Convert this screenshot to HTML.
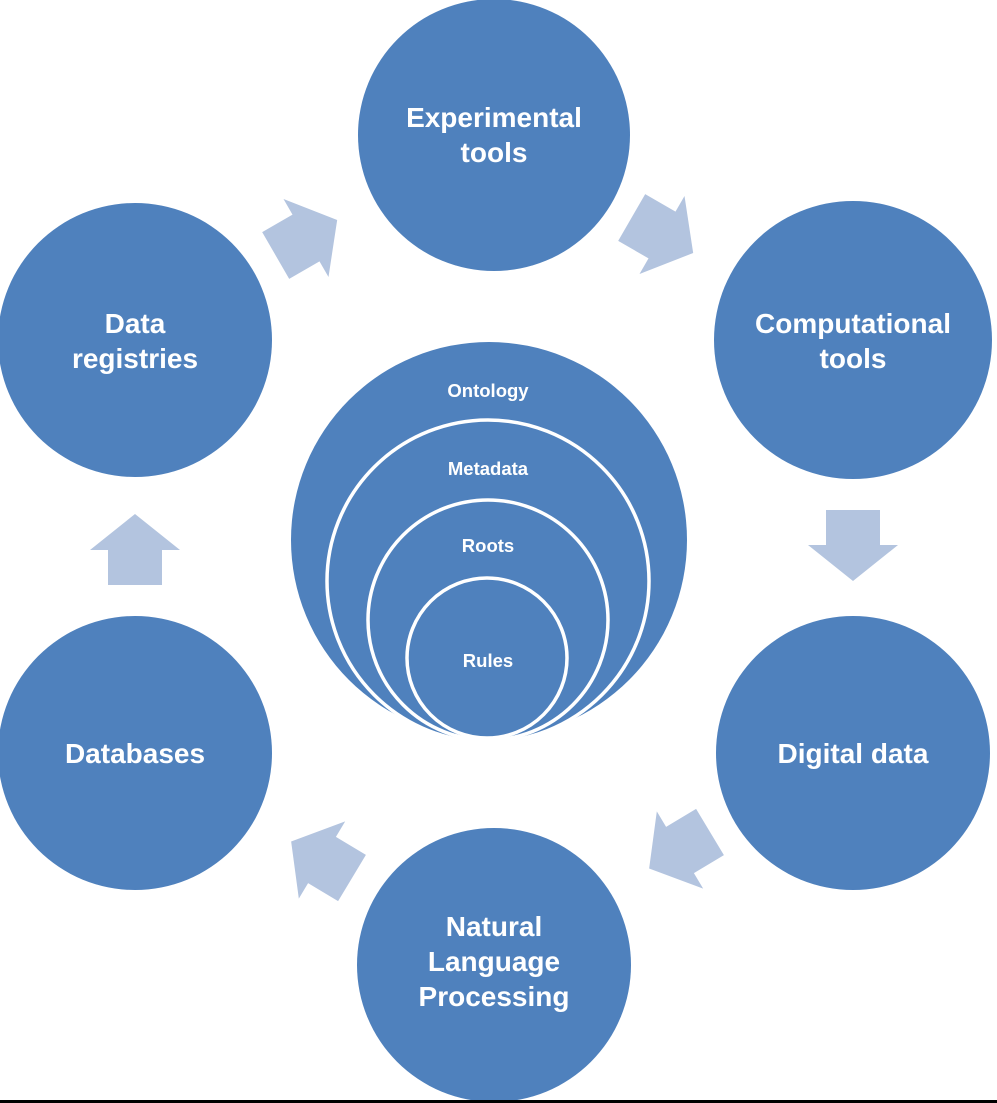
<!DOCTYPE html>
<html><head><meta charset="utf-8"><style>
html,body{margin:0;padding:0;background:#fff;}
svg{display:block;}
text{font-family:"Liberation Sans",Arial,sans-serif;font-weight:bold;fill:#fff;text-anchor:middle;}
</style></head><body>
<svg width="997" height="1103" viewBox="0 0 997 1103">
<defs>
<polygon id="ar" points="-35,-27 0,-27 0,-45 36,0 0,45 0,27 -35,27" fill="#b3c4df"/>
</defs>
<g fill="#4f81bd">
<circle cx="494" cy="135" r="136"/>
<circle cx="853" cy="340" r="139"/>
<circle cx="853" cy="753" r="137"/>
<circle cx="494" cy="965" r="137"/>
<circle cx="135" cy="753" r="137"/>
<circle cx="135" cy="340" r="137"/>
</g>
<g fill="#4f81bd" stroke="#fff" stroke-width="3.5">
<circle cx="489" cy="540" r="198" stroke="none"/>
<circle cx="488" cy="581" r="161"/>
<circle cx="488" cy="620" r="120"/>
<circle cx="487" cy="658" r="80"/>
</g>
<use href="#ar" transform="translate(306,238) rotate(-30)"/>
<use href="#ar" transform="translate(662,235) rotate(30)"/>
<use href="#ar" transform="translate(853,545) rotate(90)"/>
<use href="#ar" transform="translate(680,850) rotate(149)"/>
<use href="#ar" transform="translate(322,860) rotate(211)"/>
<use href="#ar" transform="translate(135,550) rotate(-90)"/>
<g font-size="28">
<text x="494" y="127">Experimental</text>
<text x="494" y="162">tools</text>
<text x="853" y="333">Computational</text>
<text x="853" y="368">tools</text>
<text x="135" y="333">Data</text>
<text x="135" y="368">registries</text>
<text x="853" y="763">Digital data</text>
<text x="135" y="763">Databases</text>
<text x="494" y="936">Natural</text>
<text x="494" y="971">Language</text>
<text x="494" y="1006">Processing</text>
</g>
<g font-size="18.5">
<text x="488" y="397">Ontology</text>
<text x="488" y="475">Metadata</text>
<text x="488" y="552">Roots</text>
<text x="488" y="667">Rules</text>
</g>
<rect x="0" y="1100" width="997" height="3" fill="#000"/>
</svg>
</body></html>
